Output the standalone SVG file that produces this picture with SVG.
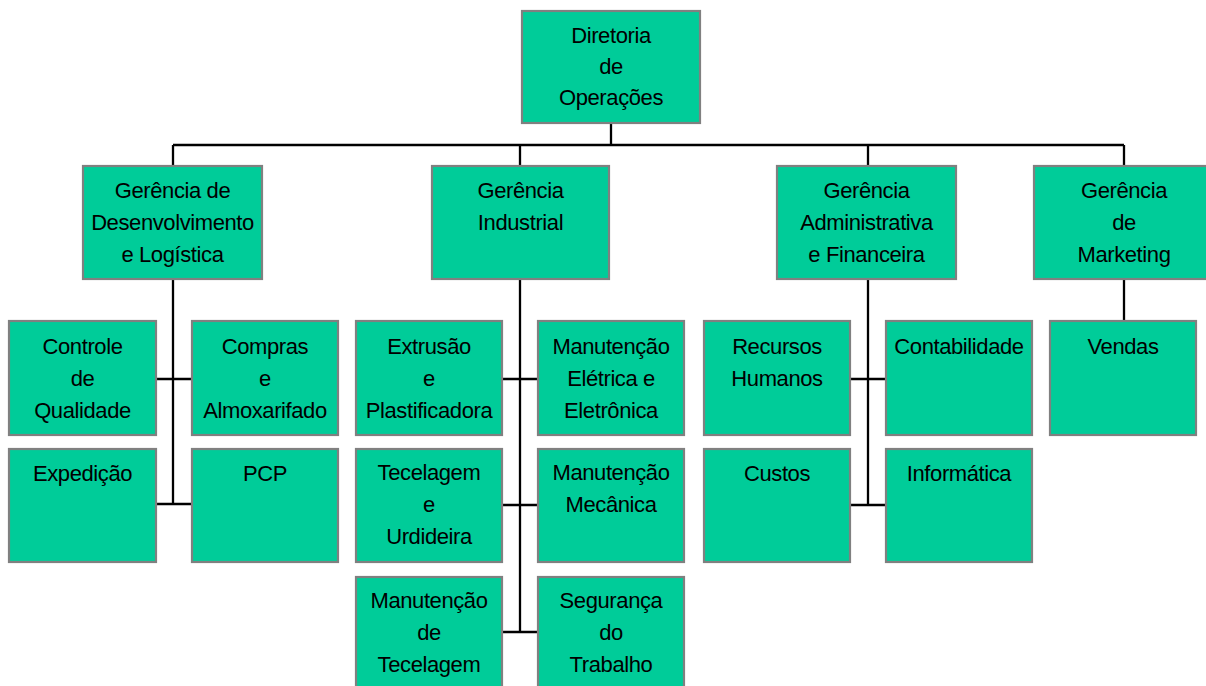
<svg xmlns="http://www.w3.org/2000/svg" width="1206" height="686" viewBox="0 0 1206 686">
<style>
.box{fill:#00CC99;stroke:#808080;stroke-width:2.2}
.t{font-family:"Liberation Sans",Arial,sans-serif;font-size:22px;letter-spacing:-0.4px;fill:#000;text-anchor:middle}
.c{stroke:#000;stroke-width:2.3;fill:none}
</style>
<rect width="1206" height="686" fill="#fff"/>
<g id="connectors">
<path class="c" d="M611 123V145M173 145H1124M173 145V166M520 145V166M868 145V166M1124 145V166"/>
<path class="c" d="M173 279V504M156 379H192M156 504H192"/>
<path class="c" d="M520 279V632M502 379H538M502 505H538M502 632H538"/>
<path class="c" d="M868 279V505M850 379H886M850 505H886"/>
<path class="c" d="M1124 279V321"/>
</g>
<g id="diretoria"><rect class="box" x="522" y="11" width="178" height="112"/><text class="t" x="611" y="43">Diretoria</text><text class="t" x="611" y="74">de</text><text class="t" x="611" y="105">Operações</text></g>
<g id="ger-desenv"><rect class="box" x="83" y="166" width="179" height="113"/><text class="t" x="172.5" y="198">Gerência de</text><text class="t" x="172.5" y="230">Desenvolvimento</text><text class="t" x="172.5" y="262">e Logística</text></g>
<g id="ger-industrial"><rect class="box" x="432" y="166" width="177" height="113"/><text class="t" x="520.5" y="198">Gerência</text><text class="t" x="520.5" y="230">Industrial</text></g>
<g id="ger-adm"><rect class="box" x="777" y="166" width="179" height="113"/><text class="t" x="866.5" y="198">Gerência</text><text class="t" x="866.5" y="230">Administrativa</text><text class="t" x="866.5" y="262">e Financeira</text></g>
<g id="ger-marketing"><rect class="box" x="1034" y="166" width="180" height="113"/><text class="t" x="1124" y="198">Gerência</text><text class="t" x="1124" y="230">de</text><text class="t" x="1124" y="262">Marketing</text></g>
<g id="controle"><rect class="box" x="9" y="321" width="147" height="114"/><text class="t" x="82.5" y="354">Controle</text><text class="t" x="82.5" y="386">de</text><text class="t" x="82.5" y="418">Qualidade</text></g>
<g id="compras"><rect class="box" x="192" y="321" width="146" height="114"/><text class="t" x="265" y="354">Compras</text><text class="t" x="265" y="386">e</text><text class="t" x="265" y="418">Almoxarifado</text></g>
<g id="expedicao"><rect class="box" x="9" y="449" width="147" height="113"/><text class="t" x="82.5" y="481">Expedição</text></g>
<g id="pcp"><rect class="box" x="192" y="449" width="146" height="113"/><text class="t" x="265" y="481">PCP</text></g>
<g id="extrusao"><rect class="box" x="356" y="321" width="146" height="114"/><text class="t" x="429" y="354">Extrusão</text><text class="t" x="429" y="386">e</text><text class="t" x="429" y="418">Plastificadora</text></g>
<g id="manut-eletrica"><rect class="box" x="538" y="321" width="146" height="114"/><text class="t" x="611" y="354">Manutenção</text><text class="t" x="611" y="386">Elétrica e</text><text class="t" x="611" y="418">Eletrônica</text></g>
<g id="tecelagem"><rect class="box" x="356" y="449" width="146" height="113"/><text class="t" x="429" y="480">Tecelagem</text><text class="t" x="429" y="512">e</text><text class="t" x="429" y="544">Urdideira</text></g>
<g id="manut-mecanica"><rect class="box" x="538" y="449" width="146" height="113"/><text class="t" x="611" y="480">Manutenção</text><text class="t" x="611" y="512">Mecânica</text></g>
<g id="manut-tecelagem"><rect class="box" x="356" y="577" width="146" height="116"/><text class="t" x="429" y="608">Manutenção</text><text class="t" x="429" y="640">de</text><text class="t" x="429" y="672">Tecelagem</text></g>
<g id="seguranca"><rect class="box" x="538" y="577" width="146" height="116"/><text class="t" x="611" y="608">Segurança</text><text class="t" x="611" y="640">do</text><text class="t" x="611" y="672">Trabalho</text></g>
<g id="rh"><rect class="box" x="704" y="321" width="146" height="114"/><text class="t" x="777" y="354">Recursos</text><text class="t" x="777" y="386">Humanos</text></g>
<g id="contabilidade"><rect class="box" x="886" y="321" width="146" height="114"/><text class="t" x="959" y="354">Contabilidade</text></g>
<g id="custos"><rect class="box" x="704" y="449" width="146" height="113"/><text class="t" x="777" y="481">Custos</text></g>
<g id="informatica"><rect class="box" x="886" y="449" width="146" height="113"/><text class="t" x="959" y="481">Informática</text></g>
<g id="vendas"><rect class="box" x="1050" y="321" width="146" height="114"/><text class="t" x="1123" y="354">Vendas</text></g>
</svg>
